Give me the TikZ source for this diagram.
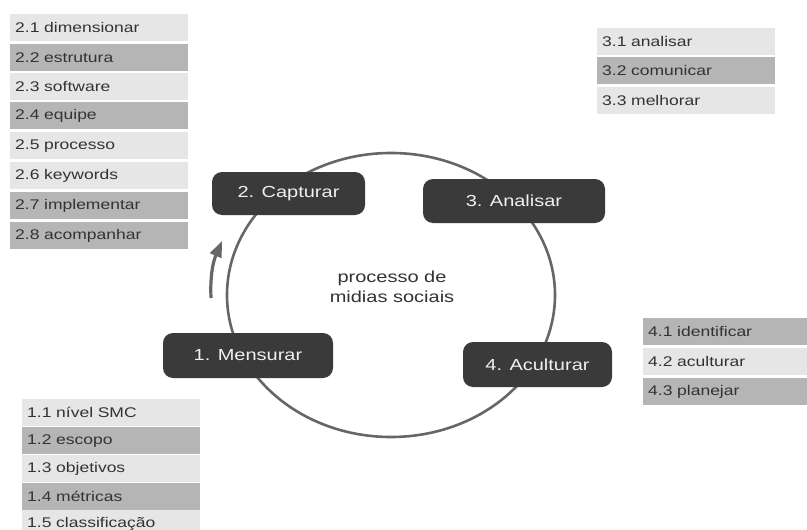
\documentclass[tikz,border=0pt]{standalone}
\usepackage{fontspec}
\setmainfont[FakeStretch=1.25]{Liberation Sans}
\usetikzlibrary{arrows.meta}
\definecolor{rowlight}{HTML}{E6E6E6}
\definecolor{rowdark}{HTML}{B5B5B5}
\definecolor{rowtext}{HTML}{333333}
\definecolor{stepfill}{HTML}{3A3A3A}
\definecolor{steptext}{HTML}{F0F0F0}
\definecolor{ringcol}{HTML}{666666}
\begin{document}
\begin{tikzpicture}[x=1pt,y=-1pt,
  rowbox/.style={anchor=north west, minimum width=178pt, minimum height=27pt,
    text width=168pt, inner xsep=5pt, inner ysep=0pt, align=left, text=rowtext,
    font=\fontsize{14}{16}\selectfont},
  lt/.style={rowbox, fill=rowlight},
  dk/.style={rowbox, fill=rowdark},
  stepbox/.style={fill=stepfill, rounded corners=10pt, text=steptext,
    font=\fontsize{16}{18}\selectfont, inner sep=0pt},
]
\path[use as bounding box] (0,0) rectangle (807,530);
\clip (0,0) rectangle (807,530);
\fill[white] (0,0) rectangle (807,530);

% ring
\draw[ringcol, line width=2.6pt] (391,295) ellipse [x radius=164, y radius=142];
\node[text=rowtext, align=center, font=\fontsize{16}{20}\selectfont] (centre) at (392,287) {processo de\\midias sociais};

% step nodes
\node[stepbox, minimum width=153pt, minimum height=43pt] (s2) at (288.5,193.5) {2. Capturar};
\node[stepbox, minimum width=182pt, minimum height=44pt] (s3) at (514,201) {3. Analisar};
\node[stepbox, minimum width=170pt, minimum height=45pt] (s1) at (248,355.5) {1. Mensurar};
\node[stepbox, minimum width=149pt, minimum height=45pt] (s4) at (537.5,364.5) {4. Aculturar};

% direction arrow
\coordinate (a1) at (211,298);
\coordinate (a2) at (222,241);
\draw[ringcol, line width=3.2pt, -{Triangle[length=16pt, width=12pt]}] (a1) .. controls (210,276) and (213,262) .. (a2);

% list 2
\node[lt] (l21) at (10,14) {2.1 dimensionar};
\node[dk] (l22) at (10,44) {2.2 estrutura};
\node[lt] (l23) at (10,73) {2.3 software};
\node[dk] (l24) at (10,102) {2.4 equipe};
\node[lt] (l25) at (10,132) {2.5 processo};
\node[lt] (l26) at (10,162) {2.6 keywords};
\node[dk] (l27) at (10,192) {2.7 implementar};
\node[dk] (l28) at (10,222) {2.8 acompanhar};

% list 3
\node[lt] (l31) at (597,28) {3.1 analisar};
\node[dk] (l32) at (597,57) {3.2 comunicar};
\node[lt] (l33) at (597,87) {3.3 melhorar};

% list 1
\node[lt] (l11) at (22,399) {1.1 nível SMC};
\node[dk] (l12) at (22,427) {1.2 escopo};
\node[lt] (l13) at (22,455) {1.3 objetivos};
\node[dk] (l14) at (22,483) {1.4 métricas};
\node[lt] (l15) at (22,510) {1.5 classificação};

% list 4
\node[dk, minimum width=164pt, text width=155pt] (l41) at (643,318) {4.1 identificar};
\node[lt, minimum width=164pt, text width=155pt] (l42) at (643,348) {4.2 aculturar};
\node[dk, minimum width=164pt, text width=155pt] (l43) at (643,378) {4.3 planejar};
\end{tikzpicture}
\end{document}
